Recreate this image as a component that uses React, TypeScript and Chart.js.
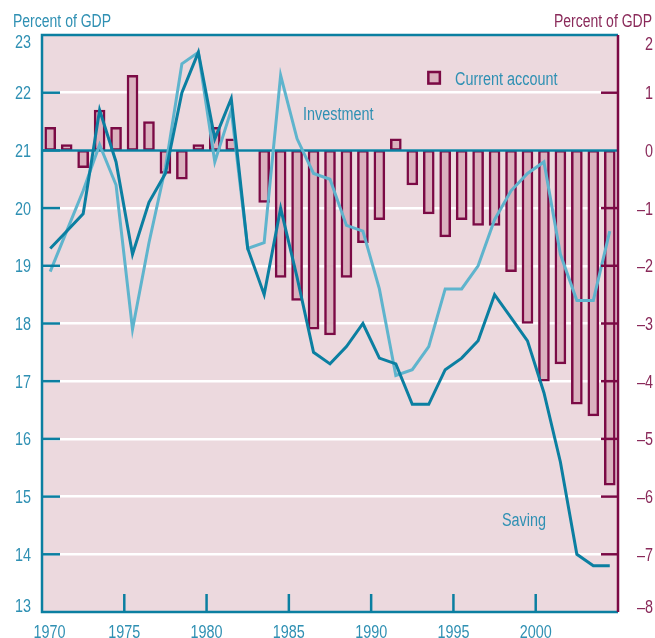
import React, { useEffect, useRef } from "react";
import { Chart, registerables } from "chart.js";

Chart.register(...registerables);

const years = [
  1970, 1971, 1972, 1973, 1974, 1975, 1976, 1977, 1978, 1979,
  1980, 1981, 1982, 1983, 1984, 1985, 1986, 1987, 1988, 1989,
  1990, 1991, 1992, 1993, 1994, 1995, 1996, 1997, 1998, 1999,
  2000, 2001, 2002, 2003, 2004,
];

const currentAccount = [
  0.4, 0.1, -0.3, 0.7, 0.4, 1.3, 0.5, -0.4, -0.5, 0.1,
  0.4, 0.2, 0.0, -0.9, -2.2, -2.6, -3.1, -3.2, -2.2, -1.6,
  -1.2, 0.2, -0.6, -1.1, -1.5, -1.2, -1.3, -1.3, -2.1, -3.0,
  -4.0, -3.7, -4.4, -4.6, -5.8,
];

const saving = [
  19.3, 19.6, 19.9, 21.7, 20.8, 19.2, 20.1, 20.6, 22.0, 22.7,
  21.2, 21.9, 19.3, 18.5, 20.0, 18.8, 17.5, 17.3, 17.6, 18.0,
  17.4, 17.3, 16.6, 16.6, 17.2, 17.4, 17.7, 18.5, 18.1, 17.7,
  16.8, 15.6, 14.0, 13.8, 13.8,
];

const investment = [
  18.9, 19.6, 20.3, 21.1, 20.4, 17.9, 19.4, 20.7, 22.5, 22.7,
  20.8, 21.7, 19.3, 19.4, 22.3, 21.2, 20.6, 20.5, 19.7, 19.6,
  18.6, 17.1, 17.2, 17.6, 18.6, 18.6, 19.0, 19.8, 20.3, 20.6,
  20.8, 19.2, 18.4, 18.4, 19.6,
];

const xTickLabels = [1970, 1975, 1980, 1985, 1990, 1995, 2000];
const leftTicks = [13, 14, 15, 16, 17, 18, 19, 20, 21, 22, 23];
const rightTicks = [-8, -7, -6, -5, -4, -3, -2, -1, 0, 1, 2];

const TEAL = "#0b7fa1";
const LIGHT = "#5fb4cd";
const MAROON = "#7b0a45";
const BAR_FILL = "#dbb2bf";
const PLOT_BG = "#ecd9de";
const LEFT_TEXT = "#2f90b3";
const RIGHT_TEXT = "#8a2a5a";
const FONT_FAMILY = "'Liberation Sans', Arimo, Arial, sans-serif";
const SQUEEZE = 0.8;

const fmtRight = (v: number) => (v < 0 ? "\u2013" + Math.abs(v) : String(v));

function narrowText(
  ctx: CanvasRenderingContext2D,
  text: string,
  x: number,
  y: number,
  align: CanvasTextAlign,
  color: string,
  size = 18
) {
  ctx.save();
  ctx.translate(x, y);
  ctx.scale(SQUEEZE, 1);
  ctx.font = `${size}px ${FONT_FAMILY}`;
  ctx.textAlign = align;
  ctx.textBaseline = "alphabetic";
  ctx.fillStyle = color;
  ctx.fillText(text, 0, 0);
  ctx.restore();
}

const decorPlugin = {
  id: "decor",
  beforeDraw(chart: any) {
    const { ctx, chartArea: a } = chart;
    ctx.save();
    ctx.fillStyle = PLOT_BG;
    ctx.fillRect(a.left, a.top, a.right - a.left, a.bottom - a.top);
    ctx.restore();
  },
  afterDatasetDraw(chart: any, args: any) {
    if (args.index !== 0) return;
    const { ctx, chartArea: a } = chart;
    const y0 = chart.scales.y2.getPixelForValue(0);
    ctx.save();
    ctx.strokeStyle = TEAL;
    ctx.lineWidth = 2.5;
    ctx.beginPath();
    ctx.moveTo(a.left, y0);
    ctx.lineTo(a.right, y0);
    ctx.stroke();
    ctx.restore();
  },
  afterDatasetsDraw(chart: any) {
    const { ctx, chartArea: a, scales } = chart;
    ctx.save();
    ctx.lineWidth = 2.5;
    ctx.strokeStyle = TEAL;
    ctx.beginPath();
    ctx.moveTo(a.right, a.top);
    ctx.lineTo(a.left, a.top);
    ctx.lineTo(a.left, a.bottom);
    ctx.lineTo(a.right, a.bottom);
    ctx.stroke();
    ctx.strokeStyle = MAROON;
    ctx.beginPath();
    ctx.moveTo(a.right, a.top);
    ctx.lineTo(a.right, a.bottom);
    ctx.stroke();
    ctx.strokeStyle = TEAL;
    leftTicks.forEach((v) => {
      if (v === 13 || v === 23) return;
      const y = scales.y.getPixelForValue(v);
      ctx.beginPath();
      ctx.moveTo(a.left, y);
      ctx.lineTo(a.left + 18, y);
      ctx.stroke();
    });
    xTickLabels.forEach((v) => {
      if (v === 1970) return;
      const x = scales.x.getPixelForValue(v);
      ctx.beginPath();
      ctx.moveTo(x, a.bottom);
      ctx.lineTo(x, a.bottom - 18);
      ctx.stroke();
    });
    ctx.strokeStyle = MAROON;
    rightTicks.forEach((v) => {
      if (v === -8 || v === 2 || v === 0) return;
      const y = scales.y2.getPixelForValue(v);
      ctx.beginPath();
      ctx.moveTo(a.right, y);
      ctx.lineTo(a.right - 17, y);
      ctx.stroke();
    });
    ctx.restore();
  },
  afterDraw(chart: any) {
    const { ctx, scales } = chart;
    const x = scales.x;
    const y = scales.y;
    const y2 = scales.y2;

    // axis tick labels, placed through the scales
    leftTicks.forEach((v) => {
      const pv = v === 13 ? 13.12 : v === 23 ? 22.88 : v;
      narrowText(ctx, String(v), 31, y.getPixelForValue(pv) + 6.5, "right", LEFT_TEXT);
    });
    rightTicks.forEach((v) => {
      const pv = v === -8 ? -7.9 : v === 2 ? 1.85 : v;
      narrowText(ctx, fmtRight(v), 653, y2.getPixelForValue(pv) + 6.5, "right", RIGHT_TEXT);
    });
    xTickLabels.forEach((v) => {
      const pv = v === 1970 ? v + 0.45 : v;
      narrowText(ctx, String(v), x.getPixelForValue(pv), 638, "center", LEFT_TEXT);
    });

    // titles
    narrowText(ctx, "Percent of GDP", 13, 27, "left", LEFT_TEXT, 17.5);
    narrowText(ctx, "Percent of GDP", 652, 27, "right", RIGHT_TEXT, 17.5);

    // series labels
    narrowText(ctx, "Investment", x.getPixelForValue(1985.86), y.getPixelForValue(21.53), "left", LEFT_TEXT);
    narrowText(ctx, "Saving", x.getPixelForValue(1997.95), y.getPixelForValue(14.49), "left", LEFT_TEXT);

    // legend
    const lx = x.getPixelForValue(1993.4);
    const ly = y.getPixelForValue(22.38);
    ctx.save();
    ctx.fillStyle = BAR_FILL;
    ctx.fillRect(lx, ly, 14, 14);
    ctx.strokeStyle = MAROON;
    ctx.lineWidth = 2.5;
    ctx.strokeRect(lx + 1.25, ly + 1.25, 11.5, 11.5);
    ctx.restore();
    narrowText(ctx, "Current account", lx + 28, ly + 14, "left", LEFT_TEXT);
  },
};

export default function App() {
  const ref = useRef<HTMLCanvasElement | null>(null);

  useEffect(() => {
    if (!ref.current) return;
    const chart = new Chart(ref.current, {
      type: "bar",
      data: {
        datasets: [
          {
            type: "bar",
            label: "Current account",
            data: years.map((yr, i) => ({ x: yr + 0.5, y: currentAccount[i] })),
            yAxisID: "y2",
            xAxisID: "x",
            backgroundColor: BAR_FILL,
            borderColor: MAROON,
            borderWidth: 2.5,
            borderSkipped: false,
            barThickness: 11,
            order: 3,
          } as any,
          {
            type: "line",
            label: "Investment",
            data: years.map((yr, i) => ({ x: yr + 0.5, y: investment[i] })),
            yAxisID: "y",
            xAxisID: "x",
            borderColor: LIGHT,
            borderWidth: 3,
            pointRadius: 0,
            tension: 0,
            fill: false,
            order: 2,
          } as any,
          {
            type: "line",
            label: "Saving",
            data: years.map((yr, i) => ({ x: yr + 0.5, y: saving[i] })),
            yAxisID: "y",
            xAxisID: "x",
            borderColor: TEAL,
            borderWidth: 3,
            pointRadius: 0,
            tension: 0,
            fill: false,
            order: 1,
          } as any,
        ],
      },
      options: {
        responsive: false,
        animation: false,
        devicePixelRatio: 1,
        events: [],
        layout: { padding: { top: 35, right: 2, left: 0, bottom: 0 } },
        plugins: { legend: { display: false }, tooltip: { enabled: false } },
        scales: {
          x: {
            type: "linear",
            position: "bottom",
            offset: false,
            min: 1970,
            max: 2005,
            afterFit: (s: any) => {
              s.height = 26;
            },
            ticks: { display: false },
            grid: { display: false, drawTicks: false },
            border: { display: false },
          },
          y: {
            type: "linear",
            position: "left",
            min: 13,
            max: 23,
            afterBuildTicks: (s: any) => {
              s.ticks = leftTicks.map((v) => ({ value: v }));
            },
            afterFit: (s: any) => {
              s.width = 42;
            },
            ticks: { display: false },
            grid: {
              drawTicks: false,
              lineWidth: 2.5,
              color: (c: any) =>
                c.tick && c.tick.value > 13 && c.tick.value < 23 ? "#ffffff" : "rgba(0,0,0,0)",
            },
            border: { display: false },
          },
          y2: {
            type: "linear",
            position: "right",
            min: -8,
            max: 2,
            afterBuildTicks: (s: any) => {
              s.ticks = rightTicks.map((v) => ({ value: v }));
            },
            afterFit: (s: any) => {
              s.width = 35;
            },
            ticks: { display: false },
            grid: { display: false, drawTicks: false },
            border: { display: false },
          },
        },
      } as any,
      plugins: [decorPlugin],
    });
    return () => chart.destroy();
  }, []);

  return (
    <div style={{ position: "absolute", left: 0, top: 0, width: 655, height: 638, background: "#fff" }}>
      <canvas ref={ref} width={655} height={638} style={{ display: "block" }} />
    </div>
  );
}
